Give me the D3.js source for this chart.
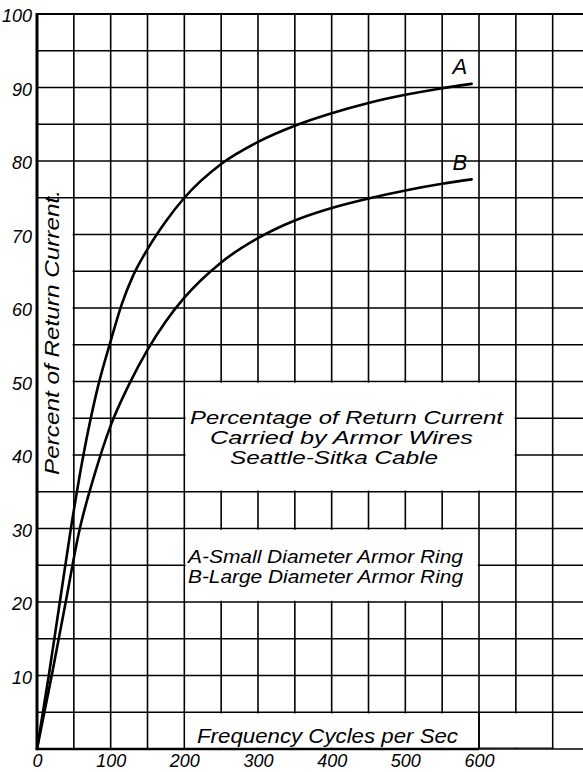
<!DOCTYPE html>
<html>
<head>
<meta charset="utf-8">
<script src="https://cdn.jsdelivr.net/npm/d3@7"></script>
<style>
  html, body { margin: 0; padding: 0; background: #fff; }
  svg { display: block; }
  text { font-family: "Liberation Sans", Arial, sans-serif; font-style: italic; fill: #000; }
</style>
</head>
<body>
<svg id="chart" width="583" height="772"></svg>
<script>
// ---- Data ----
const xTickValues = [0, 100, 200, 300, 400, 500, 600];
const yTickValues = [10, 20, 30, 40, 50, 60, 70, 80, 90, 100];

// Curve A - small diameter armor ring
const freqA = [0, 16, 31, 46, 63, 82, 100, 115, 130, 150, 175, 200, 250, 300, 350, 400, 450, 500, 550, 590];
const pctA  = [0, 10, 20, 30, 40, 49, 55.5, 60.5, 64.3, 68, 71.8, 75, 79.6, 82.6, 84.8, 86.5, 87.9, 89, 89.9, 90.5];

// Curve B - large diameter armor ring
const freqB = [0, 20, 39, 57, 78, 100, 125, 150, 175, 200, 250, 300, 350, 400, 450, 500, 550, 590];
const pctB  = [0, 10, 20, 29.5, 37.3, 44, 49.6, 54.3, 58.2, 61.4, 66.2, 69.5, 71.9, 73.6, 74.9, 76, 76.9, 77.5];

const seriesLabels = ["A", "B"];
const titleLines = ["Percentage of Return Current", "Carried by Armor Wires", "Seattle-Sitka Cable"];
const legendLines = ["A-Small Diameter Armor Ring", "B-Large Diameter Armor Ring"];
const xTitle = "Frequency Cycles per Sec";
const yTitle = "Percent of Return Current.";

// ---- Layout ----
const svg = d3.select("#chart");
const x = d3.scaleLinear().domain([0, 600]).range([37, 479]);
const y = d3.scaleLinear().domain([0, 100]).range([749, 14]);
const xMax = 760; // grid continues past the right edge of the picture

// grid
const g = svg.append("g");
const vLines = d3.range(0, xMax + 1, 50);
const hLines = d3.range(0, 101, 5);
g.selectAll("line.v").data(vLines).join("line")
  .attr("x1", d => x(d)).attr("x2", d => x(d))
  .attr("y1", y(100)).attr("y2", y(0))
  .attr("stroke", "#000").attr("stroke-width", 1.6);
g.selectAll("line.h").data(hLines).join("line")
  .attr("x1", x(0)).attr("x2", x(xMax))
  .attr("y1", d => y(d)).attr("y2", d => y(d))
  .attr("stroke", "#000").attr("stroke-width", 1.6);

// blank panels (white interior, grid lines form the borders)
const blanks = [
  [0, 50, 35, 75],     // y-axis title
  [200, 650, 35, 50],  // chart title
  [200, 600, 20, 30],  // legend
  [200, 600, 0, 5],    // x-axis title
  [600, 700, 0, 5]
];
g.selectAll("rect.blank").data(blanks).join("rect")
  .attr("x", d => x(d[0]) + 1.2)
  .attr("y", d => y(d[3]) + 1.2)
  .attr("width", d => x(d[1]) - x(d[0]) - 2.4)
  .attr("height", d => y(d[2]) - y(d[3]) - 2.4)
  .attr("fill", "#fff");
g.append("line").attr("x1", x(600)).attr("x2", x(600)).attr("y1", y(5)).attr("y2", y(0))
  .attr("stroke", "#000").attr("stroke-width", 1.6);

// borders
g.append("line").attr("x1", x(0)).attr("x2", x(0)).attr("y1", y(100) - 1).attr("y2", y(0) + 1)
  .attr("stroke", "#000").attr("stroke-width", 3);
g.append("line").attr("x1", x(0)).attr("x2", x(xMax)).attr("y1", y(100)).attr("y2", y(100))
  .attr("stroke", "#000").attr("stroke-width", 2.2);
g.append("line").attr("x1", x(0)).attr("x2", x(600)).attr("y1", y(0)).attr("y2", y(0))
  .attr("stroke", "#000").attr("stroke-width", 2.6);
g.append("line").attr("x1", x(600)).attr("x2", x(700)).attr("y1", y(0) - 1).attr("y2", y(0) - 1)
  .attr("stroke", "#000").attr("stroke-width", 1.2);

// curves
const line = d3.line().x(d => x(d[0])).y(d => y(d[1])).curve(d3.curveMonotoneX);
const dataA = freqA.map((f, i) => [f, pctA[i]]);
const dataB = freqB.map((f, i) => [f, pctB[i]]);
[dataA, dataB].forEach(d => {
  svg.append("path").datum(d).attr("d", line)
    .attr("fill", "none").attr("stroke", "#000").attr("stroke-width", 2.6)
    .attr("stroke-linecap", "round");
});

// series labels
svg.append("text").attr("x", x(564)).attr("y", y(91.8)).attr("font-size", 22).text(seriesLabels[0]);
svg.append("text").attr("x", x(564)).attr("y", y(78.8)).attr("font-size", 22).text(seriesLabels[1]);

// axes (tick labels)
const yAxis = d3.axisLeft(y).tickValues(yTickValues).tickSize(0).tickPadding(5);
const ya = svg.append("g").attr("transform", `translate(${x(0)},0)`).call(yAxis);
ya.select(".domain").remove();
ya.selectAll("text").attr("font-size", 19).attr("font-family", "Liberation Sans, Arial, sans-serif")
  .attr("font-style", "italic").attr("dy", "0.42em").attr("fill", "#000")
  .attr("textLength", d => String(d).length * 10).attr("lengthAdjust", "spacingAndGlyphs");

const xAxis = d3.axisBottom(x).tickValues(xTickValues).tickSize(0).tickPadding(5);
const xa = svg.append("g").attr("transform", `translate(0,${y(0)})`).call(xAxis);
xa.select(".domain").remove();
xa.selectAll("text").attr("font-size", 19).attr("font-family", "Liberation Sans, Arial, sans-serif")
  .attr("font-style", "italic").attr("fill", "#000")
  .attr("textLength", d => String(d).length * 10).attr("lengthAdjust", "spacingAndGlyphs");

// title block
const titleX = [190, 210, 230], titleW = [313, 263, 208], titleY = [424, 444, 464];
titleLines.forEach((t, i) => {
  svg.append("text").attr("x", titleX[i]).attr("y", titleY[i]).attr("font-size", 18.5)
    .attr("textLength", titleW[i]).attr("lengthAdjust", "spacingAndGlyphs").text(t);
});

// legend block
legendLines.forEach((t, i) => {
  svg.append("text").attr("x", 188).attr("y", 563 + i * 20).attr("font-size", 19)
    .attr("textLength", 275).attr("lengthAdjust", "spacingAndGlyphs").text(t);
});

// x title
svg.append("text").attr("x", 197).attr("y", 743).attr("font-size", 20)
  .attr("textLength", 261).attr("lengthAdjust", "spacingAndGlyphs").text(xTitle);

// y title
svg.append("text").attr("transform", "translate(59,475) rotate(-90)").attr("font-size", 20)
  .attr("textLength", 285).attr("lengthAdjust", "spacingAndGlyphs").text(yTitle);
</script>
</body>
</html>
